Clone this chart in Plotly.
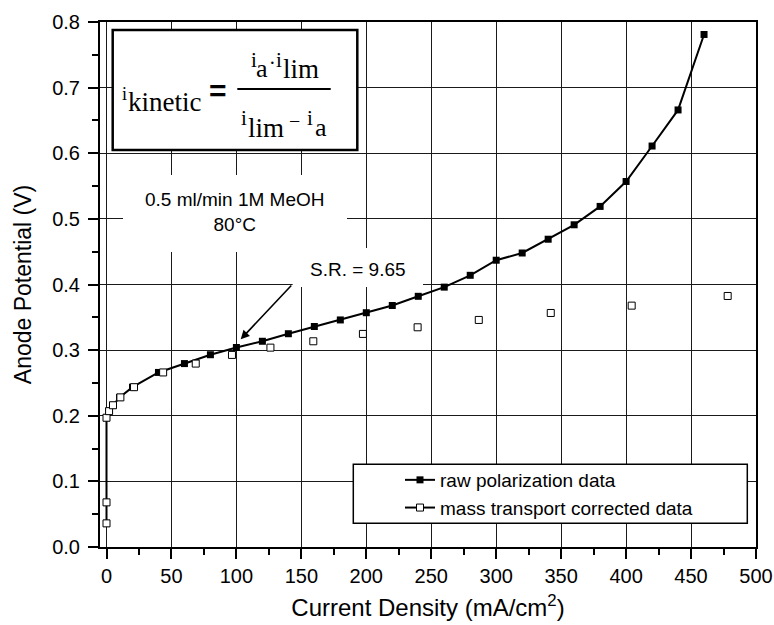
import plotly.graph_objects as go

# ---------------- data ----------------
raw_x = [0, 0, 0, 2, 5, 10, 20, 40, 60, 80, 100, 120, 140, 160, 180, 200, 220,
         240, 260, 280, 300, 320, 340, 360, 380, 400, 420, 440, 460]
raw_y = [0.036, 0.068, 0.197, 0.207, 0.216, 0.228, 0.2435, 0.266, 0.2795, 0.293,
         0.304, 0.3135, 0.325, 0.336, 0.346, 0.357, 0.368, 0.382, 0.396, 0.414,
         0.437, 0.448, 0.469, 0.491, 0.519, 0.557, 0.611, 0.666, 0.781]

corr_x = [0, 0, 0, 2, 5, 10.7, 21.2, 43.6, 68.7, 96.6, 126.2, 159.2, 197.4,
          239.5, 286.6, 342.0, 404.3, 478.2]
corr_y = [0.036, 0.068, 0.197, 0.207, 0.216, 0.228, 0.2435, 0.266, 0.2795, 0.2927,
          0.3038, 0.3135, 0.3247, 0.3348, 0.346, 0.3566, 0.3678, 0.3825]

x_ticks = [0, 50, 100, 150, 200, 250, 300, 350, 400, 450, 500]
y_ticks = [0.0, 0.1, 0.2, 0.3, 0.4, 0.5, 0.6, 0.7, 0.8]

series_names = ["raw polarization data", "mass transport corrected data"]

# ---------------- layout geometry ----------------
W, H = 774, 625
ML, MR, MT, MB = 100, 18, 22, 78
XR = [-5, 500]
YR = [0, 0.8]
PW, PH = W - ML - MR, H - MT - MB


def px2x(px):
    return XR[0] + (px - ML) / PW * (XR[1] - XR[0])


def py2y(py):
    return YR[0] + (H - MB - py) / PH * (YR[1] - YR[0])


SANS = "Liberation Sans, Arial, sans-serif"
SERIF = "Liberation Serif, Times New Roman, serif"

fig = go.Figure()

fig.add_trace(go.Scatter(
    x=raw_x, y=raw_y, name=series_names[0], mode="lines+markers",
    line=dict(color="black", width=2),
    marker=dict(symbol="square", size=7, color="black"),
))

# interleave gaps so that only markers are drawn while legend shows line+symbol
cx, cy = [], []
for a, b in zip(corr_x, corr_y):
    cx += [a, None]
    cy += [b, None]
fig.add_trace(go.Scatter(
    x=cx, y=cy, name=series_names[1], mode="lines+markers", connectgaps=False,
    line=dict(color="black", width=2),
    marker=dict(symbol="square", size=7, color="white",
                line=dict(color="black", width=1)),
))

shapes = []
annotations = []

# formula box
shapes.append(dict(type="rect", xref="x", yref="y",
                   x0=px2x(112.7), x1=px2x(357.3), y0=py2y(150), y1=py2y(30),
                   line=dict(color="black", width=2.5), fillcolor="white",
                   layer="between"))
# fraction bar
shapes.append(dict(type="line", xref="x", yref="y",
                   x0=px2x(237.3), x1=px2x(330.7), y0=py2y(89), y1=py2y(89),
                   line=dict(color="black", width=2)))
# condition-text box (white, no border)
shapes.append(dict(type="rect", xref="x", yref="y",
                   x0=px2x(123), x1=px2x(347), y0=py2y(252), y1=py2y(175),
                   line=dict(width=0), fillcolor="white", layer="between"))
# S.R. label box
shapes.append(dict(type="rect", xref="x", yref="y",
                   x0=px2x(292.7), x1=px2x(423), y0=py2y(287), y1=py2y(248),
                   line=dict(width=0), fillcolor="white", layer="between"))
# legend box
shapes.append(dict(type="rect", xref="x", yref="y",
                   x0=px2x(353.3), x1=px2x(747.3), y0=py2y(523.3), y1=py2y(464.3),
                   line=dict(color="black", width=1.5), fillcolor="white",
                   layer="between"))


def serif_piece(text, px_left, py_base, size, bold=False):
    yc = py_base - 0.3375 * size
    t = "<b>%s</b>" % text if bold else text
    annotations.append(dict(
        x=px2x(px_left), y=py2y(yc), xref="x", yref="y", text=t,
        showarrow=False, xanchor="left", yanchor="middle", borderpad=0,
        borderwidth=0, font=dict(family=SERIF, size=size, color="black")))


# i_kinetic
serif_piece("i", 121.5, 100, 18)
serif_piece("kinetic", 127.5, 111, 27)
# =
annotations.append(dict(x=px2x(218.3), y=py2y(90), xref="x", yref="y",
                        text="<b>=</b>", showarrow=False, xanchor="center",
                        yanchor="middle", borderpad=0, borderwidth=0,
                        font=dict(family=SANS, size=30, color="black")))
# numerator
serif_piece("i", 250.5, 66.7, 21)
serif_piece("a", 256, 77.3, 26)
serif_piece("·", 268.5, 70, 20)
serif_piece("i", 275.5, 66.7, 21)
serif_piece("lim", 282.5, 78.3, 27)
# denominator
serif_piece("i", 240.5, 125, 21)
serif_piece("lim", 247.5, 136.7, 27)
serif_piece("−", 289, 128, 20)
serif_piece("i", 307, 125, 21)
serif_piece("a", 314.5, 136.7, 26)

# condition text
annotations.append(dict(
    x=px2x(234.7), y=py2y(212), xref="x", yref="y",
    text="0.5 ml/min 1M MeOH<br>80°C", showarrow=False,
    xanchor="center", yanchor="middle", align="center",
    font=dict(family=SANS, size=19, color="black")))

# S.R. label
annotations.append(dict(
    x=px2x(358.3), y=py2y(269), xref="x", yref="y",
    text="S.R. = 9.65", showarrow=False, xanchor="center", yanchor="middle",
    font=dict(family=SANS, size=19, color="black")))

# arrow pointing at the 100 mA/cm2 point
annotations.append(dict(
    x=px2x(240.7), y=py2y(339.3), ax=px2x(292.7), ay=py2y(284),
    xref="x", yref="y", axref="x", ayref="y", text="", showarrow=True,
    arrowhead=2, arrowsize=1.1, arrowwidth=1.6, arrowcolor="black", standoff=0))

axis_common = dict(
    showline=True, linecolor="black", linewidth=2, mirror=True,
    showgrid=True, gridcolor="#1a1a1a", gridwidth=1, zeroline=False,
    ticks="outside", ticklen=10, tickwidth=2, tickcolor="black",
    tickfont=dict(family=SANS, size=20, color="black"),
    automargin=False,
)

fig.update_layout(
    width=W, height=H,
    margin=dict(l=ML, r=MR, t=MT, b=MB, pad=0, autoexpand=False),
    paper_bgcolor="white", plot_bgcolor="white",
    showlegend=True,
    legend=dict(x=(400 - ML) / PW, y=(H - MB - 461) / PH, xanchor="left",
                yanchor="top", bgcolor="rgba(0,0,0,0)", borderwidth=0,
                font=dict(family=SANS, size=19, color="black"),
                tracegroupgap=0),
    xaxis=dict(range=XR, tickvals=x_ticks,
               ticktext=[str(v) for v in x_ticks],
               minor=dict(ticks="outside", ticklen=6, tickwidth=2,
                          tickcolor="black", dtick=25, showgrid=False),
               title=dict(text="Current Density (mA/cm<sup>2</sup>)",
                          font=dict(family=SANS, size=24, color="black"),
                          standoff=13),
               **axis_common),
    yaxis=dict(range=YR, tickvals=y_ticks,
               ticktext=["%.1f" % v for v in y_ticks],
               minor=dict(ticks="outside", ticklen=6, tickwidth=2,
                          tickcolor="black", dtick=0.05, showgrid=False),
               ticklabelstandoff=4,
               title=dict(text="Anode Potential (V)",
                          font=dict(family=SANS, size=23, color="black"),
                          standoff=14),
               **axis_common),
    shapes=shapes,
    annotations=annotations,
)

fig.write_html("out.html")
